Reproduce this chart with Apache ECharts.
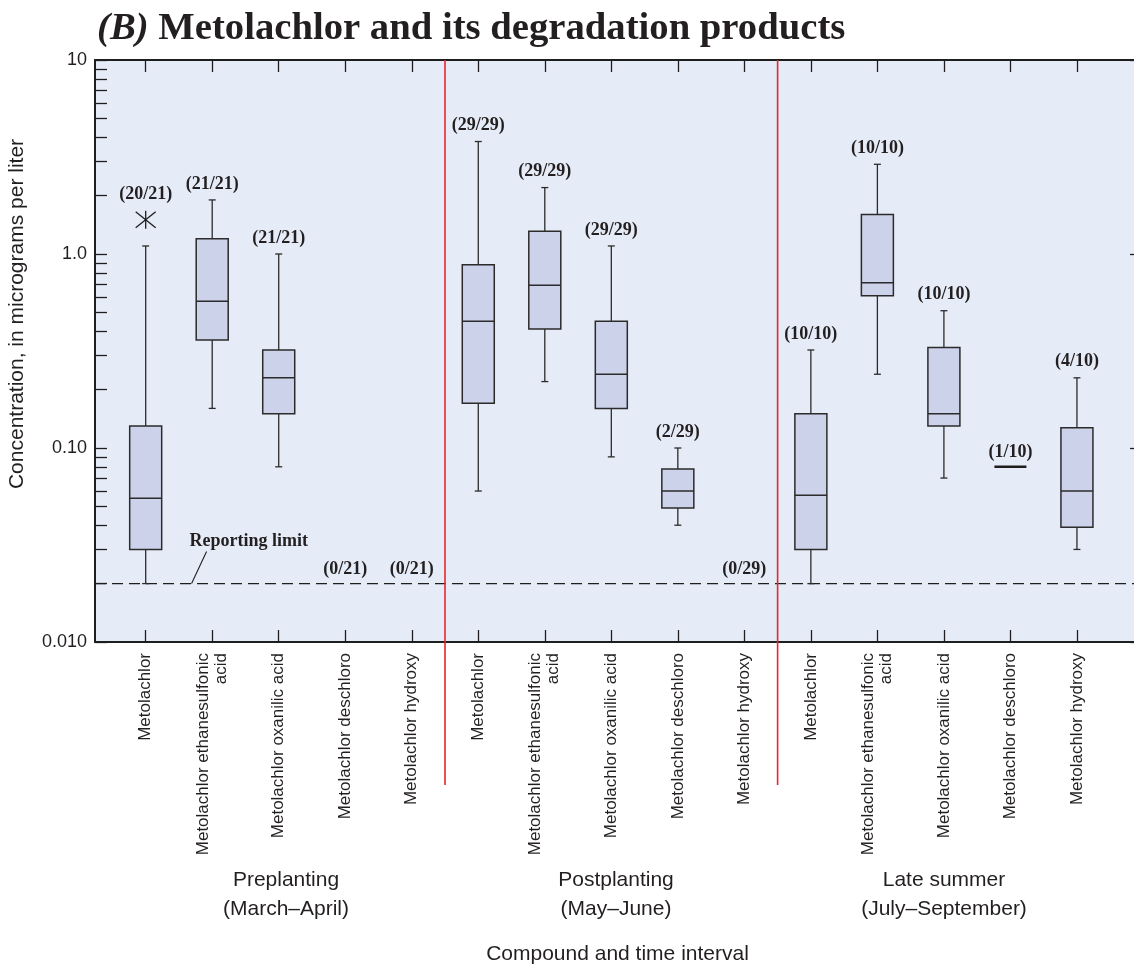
<!DOCTYPE html>
<html>
<head>
<meta charset="utf-8">
<script src="https://cdn.jsdelivr.net/npm/echarts@6/dist/echarts.min.js"></script>
<style>
  html, body { margin: 0; padding: 0; background: #fff; }
  #chart { width: 1134px; height: 966px; }
</style>
</head>
<body>
<div id="chart"></div>
<script>
// compounds, one per box position (3 time intervals x 5 compounds)
const compounds = [
  'Metolachlor', 'Metolachlor ethanesulfonic\nacid', 'Metolachlor oxanilic acid', 'Metolachlor deschloro', 'Metolachlor hydroxy',
  'Metolachlor', 'Metolachlor ethanesulfonic\nacid', 'Metolachlor oxanilic acid', 'Metolachlor deschloro', 'Metolachlor hydroxy',
  'Metolachlor', 'Metolachlor ethanesulfonic\nacid', 'Metolachlor oxanilic acid', 'Metolachlor deschloro', 'Metolachlor hydroxy'
]
const positions = [1, 2, 3, 4, 5, 6, 7, 8, 9, 10, 11, 12, 13, 14, 15]

// box statistics, micrograms per liter (null = nothing detected)
const whiskerLow  = [0.020, 0.16, 0.080, null, null, 0.060, 0.22, 0.090, 0.040, null, 0.020, 0.24, 0.070, 0.080, 0.030]
const q1          = [0.030, 0.36, 0.15,  null, null, 0.17,  0.41, 0.16,  0.049, null, 0.030, 0.61, 0.13,  0.080, 0.039]
const median      = [0.055, 0.57, 0.23,  null, null, 0.45,  0.69, 0.24,  0.060, null, 0.057, 0.71, 0.15,  0.080, 0.060]
const q3          = [0.13,  1.2,  0.32,  null, null, 0.88,  1.31, 0.45,  0.078, null, 0.15,  1.6,  0.33,  0.080, 0.127]
const whiskerHigh = [1.1,   1.9,  1.0,   null, null, 3.8,   2.2,  1.1,   0.10,  null, 0.32,  2.9,  0.51,  0.080, 0.23]
const outliers = [[1, 1.5]]

const detections = [
  '(20/21)', '(21/21)', '(21/21)', '(0/21)', '(0/21)',
  '(29/29)', '(29/29)', '(29/29)', '(2/29)', '(0/29)',
  '(10/10)', '(10/10)', '(10/10)', '(1/10)', '(4/10)'
]
const reportingLimit = 0.02
const groupSeparators = [5.5, 10.5]
const groupNames = ['Preplanting\n(March\u2013April)', 'Postplanting\n(May\u2013June)', 'Late summer\n(July\u2013September)']

const yTickValues = [0.01, 0.1, 1, 10]
const yTickLabels = ['0.010', '0.10', '1.0', '10']
const yMinorTicks = [
  0.01, 0.02, 0.03, 0.04, 0.05, 0.06, 0.07, 0.08, 0.09,
  0.1, 0.2, 0.3, 0.4, 0.5, 0.6, 0.7, 0.8, 0.9,
  1, 2, 3, 4, 5, 6, 7, 8, 9, 10
]

const sansFont = '"Liberation Sans", Arial, sans-serif'
const serifFont = '"Liberation Serif", "Times New Roman", serif'
const ink = '#231f20'

const boxData = []
positions.forEach((p, i) => {
  if (q1[i] != null) boxData.push([p, whiskerLow[i], q1[i], median[i], q3[i], whiskerHigh[i]])
})

// label anchor: top of the highest mark, or the reporting limit if nothing found
// kind 0 = whisker cap, 1 = flat line, 2 = outlier symbol
const labelData = positions.map((p, i) => {
  const out = outliers.find(o => o[0] === p)
  if (out) return [p, out[1], 2]
  if (whiskerHigh[i] == null) return [p, reportingLimit, 1]
  if (q1[i] === q3[i]) return [p, whiskerHigh[i], 1]
  return [p, whiskerHigh[i], 0]
})

function renderBox(params, api) {
  const x = api.value(0)
  const lo = api.coord([x, api.value(1)])
  const b1 = api.coord([x, api.value(2)])
  const md = api.coord([x, api.value(3)])
  const b3 = api.coord([x, api.value(4)])
  const hi = api.coord([x, api.value(5)])
  const cx = lo[0]
  const hw = 16
  const cw = 3.5
  const ls = { stroke: '#2b2b2b', lineWidth: 1.3 }
  if (api.value(2) === api.value(4)) {
    return {
      type: 'line',
      shape: { x1: cx - hw, y1: md[1], x2: cx + hw, y2: md[1] },
      style: { stroke: '#1e1e1e', lineWidth: 2.6 }
    }
  }
  return {
    type: 'group',
    children: [
      { type: 'line', shape: { x1: cx, y1: hi[1], x2: cx, y2: b3[1] }, style: ls },
      { type: 'line', shape: { x1: cx, y1: b1[1], x2: cx, y2: lo[1] }, style: ls },
      { type: 'line', shape: { x1: cx - cw, y1: hi[1], x2: cx + cw, y2: hi[1] }, style: ls },
      { type: 'line', shape: { x1: cx - cw, y1: lo[1], x2: cx + cw, y2: lo[1] }, style: ls },
      {
        type: 'rect',
        shape: { x: cx - hw, y: b3[1], width: hw * 2, height: b1[1] - b3[1] },
        style: { fill: '#ccd2ea', stroke: '#2b2b2b', lineWidth: 1.5 }
      },
      { type: 'line', shape: { x1: cx - hw, y1: md[1], x2: cx + hw, y2: md[1] }, style: { stroke: '#2b2b2b', lineWidth: 1.5 } }
    ]
  }
}

function renderStar(params, api) {
  const c = api.coord([api.value(0), api.value(1)])
  const s = { stroke: '#1e1e1e', lineWidth: 1.3 }
  return {
    type: 'group',
    children: [
      { type: 'line', shape: { x1: c[0] - 10, y1: c[1] - 8, x2: c[0] + 10, y2: c[1] + 8 }, style: s },
      { type: 'line', shape: { x1: c[0] - 10, y1: c[1] + 8, x2: c[0] + 10, y2: c[1] - 8 }, style: s },
      { type: 'line', shape: { x1: c[0], y1: c[1] - 9, x2: c[0], y2: c[1] + 9 }, style: s }
    ]
  }
}

function renderDetection(params, api) {
  const c = api.coord([api.value(0), api.value(1)])
  const kind = api.value(2)
  const off = kind === 2 ? 25 : (kind === 1 ? 14 : 16)
  return {
    type: 'text',
    x: c[0],
    y: c[1] - off,
    style: {
      text: detections[params.dataIndex],
      font: 'bold 18px ' + serifFont,
      fill: ink,
      align: 'center',
      verticalAlign: 'middle'
    }
  }
}

function renderSeparator(params, api) {
  const top = api.coord([api.value(0), api.value(1)])
  const bot = api.coord([api.value(0), api.value(2)])
  return {
    type: 'line',
    shape: { x1: top[0], y1: top[1], x2: bot[0], y2: bot[1] + 143 },
    style: { stroke: '#e8262b', lineWidth: 1.6 }
  }
}

function renderLimit(params, api) {
  const cs = params.coordSys
  const p = api.coord([api.value(0), api.value(1)])
  return {
    type: 'group',
    children: [
      {
        type: 'line',
        shape: { x1: cs.x, y1: p[1], x2: cs.x + cs.width, y2: p[1] },
        style: { stroke: '#1e1e1e', lineWidth: 1.2, lineDash: [11, 6] }
      },
      { type: 'line', shape: { x1: p[0], y1: p[1], x2: p[0] + 15, y2: p[1] - 32 }, style: { stroke: '#1e1e1e', lineWidth: 1.1 } },
      {
        type: 'text',
        x: p[0] - 2,
        y: p[1] - 42,
        style: { text: 'Reporting limit', font: 'bold 18px ' + serifFont, fill: ink, align: 'left', verticalAlign: 'middle' }
      }
    ]
  }
}

const chart = echarts.init(document.getElementById('chart'))

const xMin = 0.238
const xMax = 15.948

// group captions under the compound names, plus the y axis title
const captions = groupNames.map((name, i) => ({
  type: 'text',
  x: [286, 616, 944][i],
  y: 895,
  style: {
    text: name,
    font: '21px ' + sansFont,
    fill: ink,
    align: 'center',
    verticalAlign: 'middle',
    lineHeight: 29
  }
}))
captions.push({
  type: 'text',
  x: 17,
  y: 314,
  rotation: Math.PI / 2,
  style: {
    text: 'Concentration, in micrograms per liter',
    font: '21px ' + sansFont,
    fill: ink,
    align: 'center',
    verticalAlign: 'middle'
  }
})

const option = {
  animation: false,
  title: {
    text: '{i|(B)}{b| Metolachlor and its degradation products}',
    left: 92,
    top: 5,
    textStyle: {
      rich: {
        i: { fontFamily: serifFont, fontStyle: 'italic', fontWeight: 'bold', fontSize: 38.7, color: ink },
        b: { fontFamily: serifFont, fontWeight: 'bold', fontSize: 38.7, color: ink }
      }
    }
  },
  grid: {
    left: 95,
    top: 60,
    width: 1045,
    height: 582,
    outerBoundsMode: 'none',
    containLabel: false,
    show: true,
    backgroundColor: '#e6ecf7',
    borderWidth: 0
  },
  xAxis: [
    {
      type: 'value',
      min: xMin,
      max: xMax,
      position: 'bottom',
      name: 'Compound and time interval',
      nameLocation: 'middle',
      nameGap: 302,
      nameTextStyle: { fontFamily: sansFont, fontSize: 21, color: ink },
      splitLine: { show: false },
      axisLine: { lineStyle: { color: '#1e1e1e', width: 2 } },
      axisTick: { inside: true, length: 12, customValues: positions, lineStyle: { color: '#1e1e1e', width: 1.3 } },
      axisLabel: {
        customValues: positions,
        rotate: 90,
        margin: 11,
        fontFamily: sansFont,
        fontSize: 17,
        lineHeight: 18,
        color: ink,
        formatter: (v) => compounds[Math.round(v) - 1]
      }
    },
    {
      type: 'value',
      min: xMin,
      max: xMax,
      position: 'top',
      splitLine: { show: false },
      axisLine: { lineStyle: { color: '#1e1e1e', width: 2 } },
      axisTick: { inside: true, length: 12, customValues: positions, lineStyle: { color: '#1e1e1e', width: 1.3 } },
      axisLabel: { show: false }
    }
  ],
  yAxis: [
    {
      type: 'log',
      logBase: 10,
      min: 0.01,
      max: 10,
      position: 'left',
      splitLine: { show: false },
      axisLine: { lineStyle: { color: '#1e1e1e', width: 2 } },
      axisTick: { inside: true, length: 12, customValues: yMinorTicks, lineStyle: { color: '#1e1e1e', width: 1.3 } },
      axisLabel: {
        customValues: yTickValues,
        margin: 8,
        fontFamily: sansFont,
        fontSize: 18,
        color: ink,
        formatter: (v) => {
          const i = yTickValues.findIndex(t => Math.abs(Math.log10(t) - Math.log10(v)) < 1e-6)
          return i >= 0 ? yTickLabels[i] : ''
        }
      }
    },
    {
      type: 'log',
      logBase: 10,
      min: 0.01,
      max: 10,
      position: 'right',
      splitLine: { show: false },
      axisLine: { lineStyle: { color: '#1e1e1e', width: 2 } },
      axisTick: { inside: true, length: 10, customValues: yTickValues, lineStyle: { color: '#1e1e1e', width: 1.3 } },
      axisLabel: { show: false }
    }
  ],
  graphic: captions,
  series: [
    {
      type: 'custom',
      name: 'limit',
      xAxisIndex: 0,
      yAxisIndex: 0,
      renderItem: renderLimit,
      encode: { x: 0, y: 1 },
      data: [[1.69, reportingLimit]],
      silent: true,
      z: 2
    },
    {
      type: 'custom',
      name: 'separators',
      xAxisIndex: 0,
      yAxisIndex: 0,
      renderItem: renderSeparator,
      encode: { x: 0, y: [1, 2] },
      data: groupSeparators.map(v => [v, 10, 0.01]),
      clip: false,
      silent: true,
      z: 5
    },
    {
      type: 'custom',
      name: 'boxes',
      xAxisIndex: 0,
      yAxisIndex: 0,
      renderItem: renderBox,
      encode: { x: 0, y: [1, 2, 3, 4, 5] },
      data: boxData,
      silent: true,
      z: 3
    },
    {
      type: 'custom',
      name: 'outliers',
      xAxisIndex: 0,
      yAxisIndex: 0,
      renderItem: renderStar,
      encode: { x: 0, y: 1 },
      data: outliers,
      silent: true,
      z: 3
    },
    {
      type: 'custom',
      name: 'detections',
      xAxisIndex: 0,
      yAxisIndex: 0,
      renderItem: renderDetection,
      encode: { x: 0, y: 1 },
      data: labelData,
      silent: true,
      z: 4
    }
  ]
}

chart.setOption(option)
</script>
</body>
</html>
